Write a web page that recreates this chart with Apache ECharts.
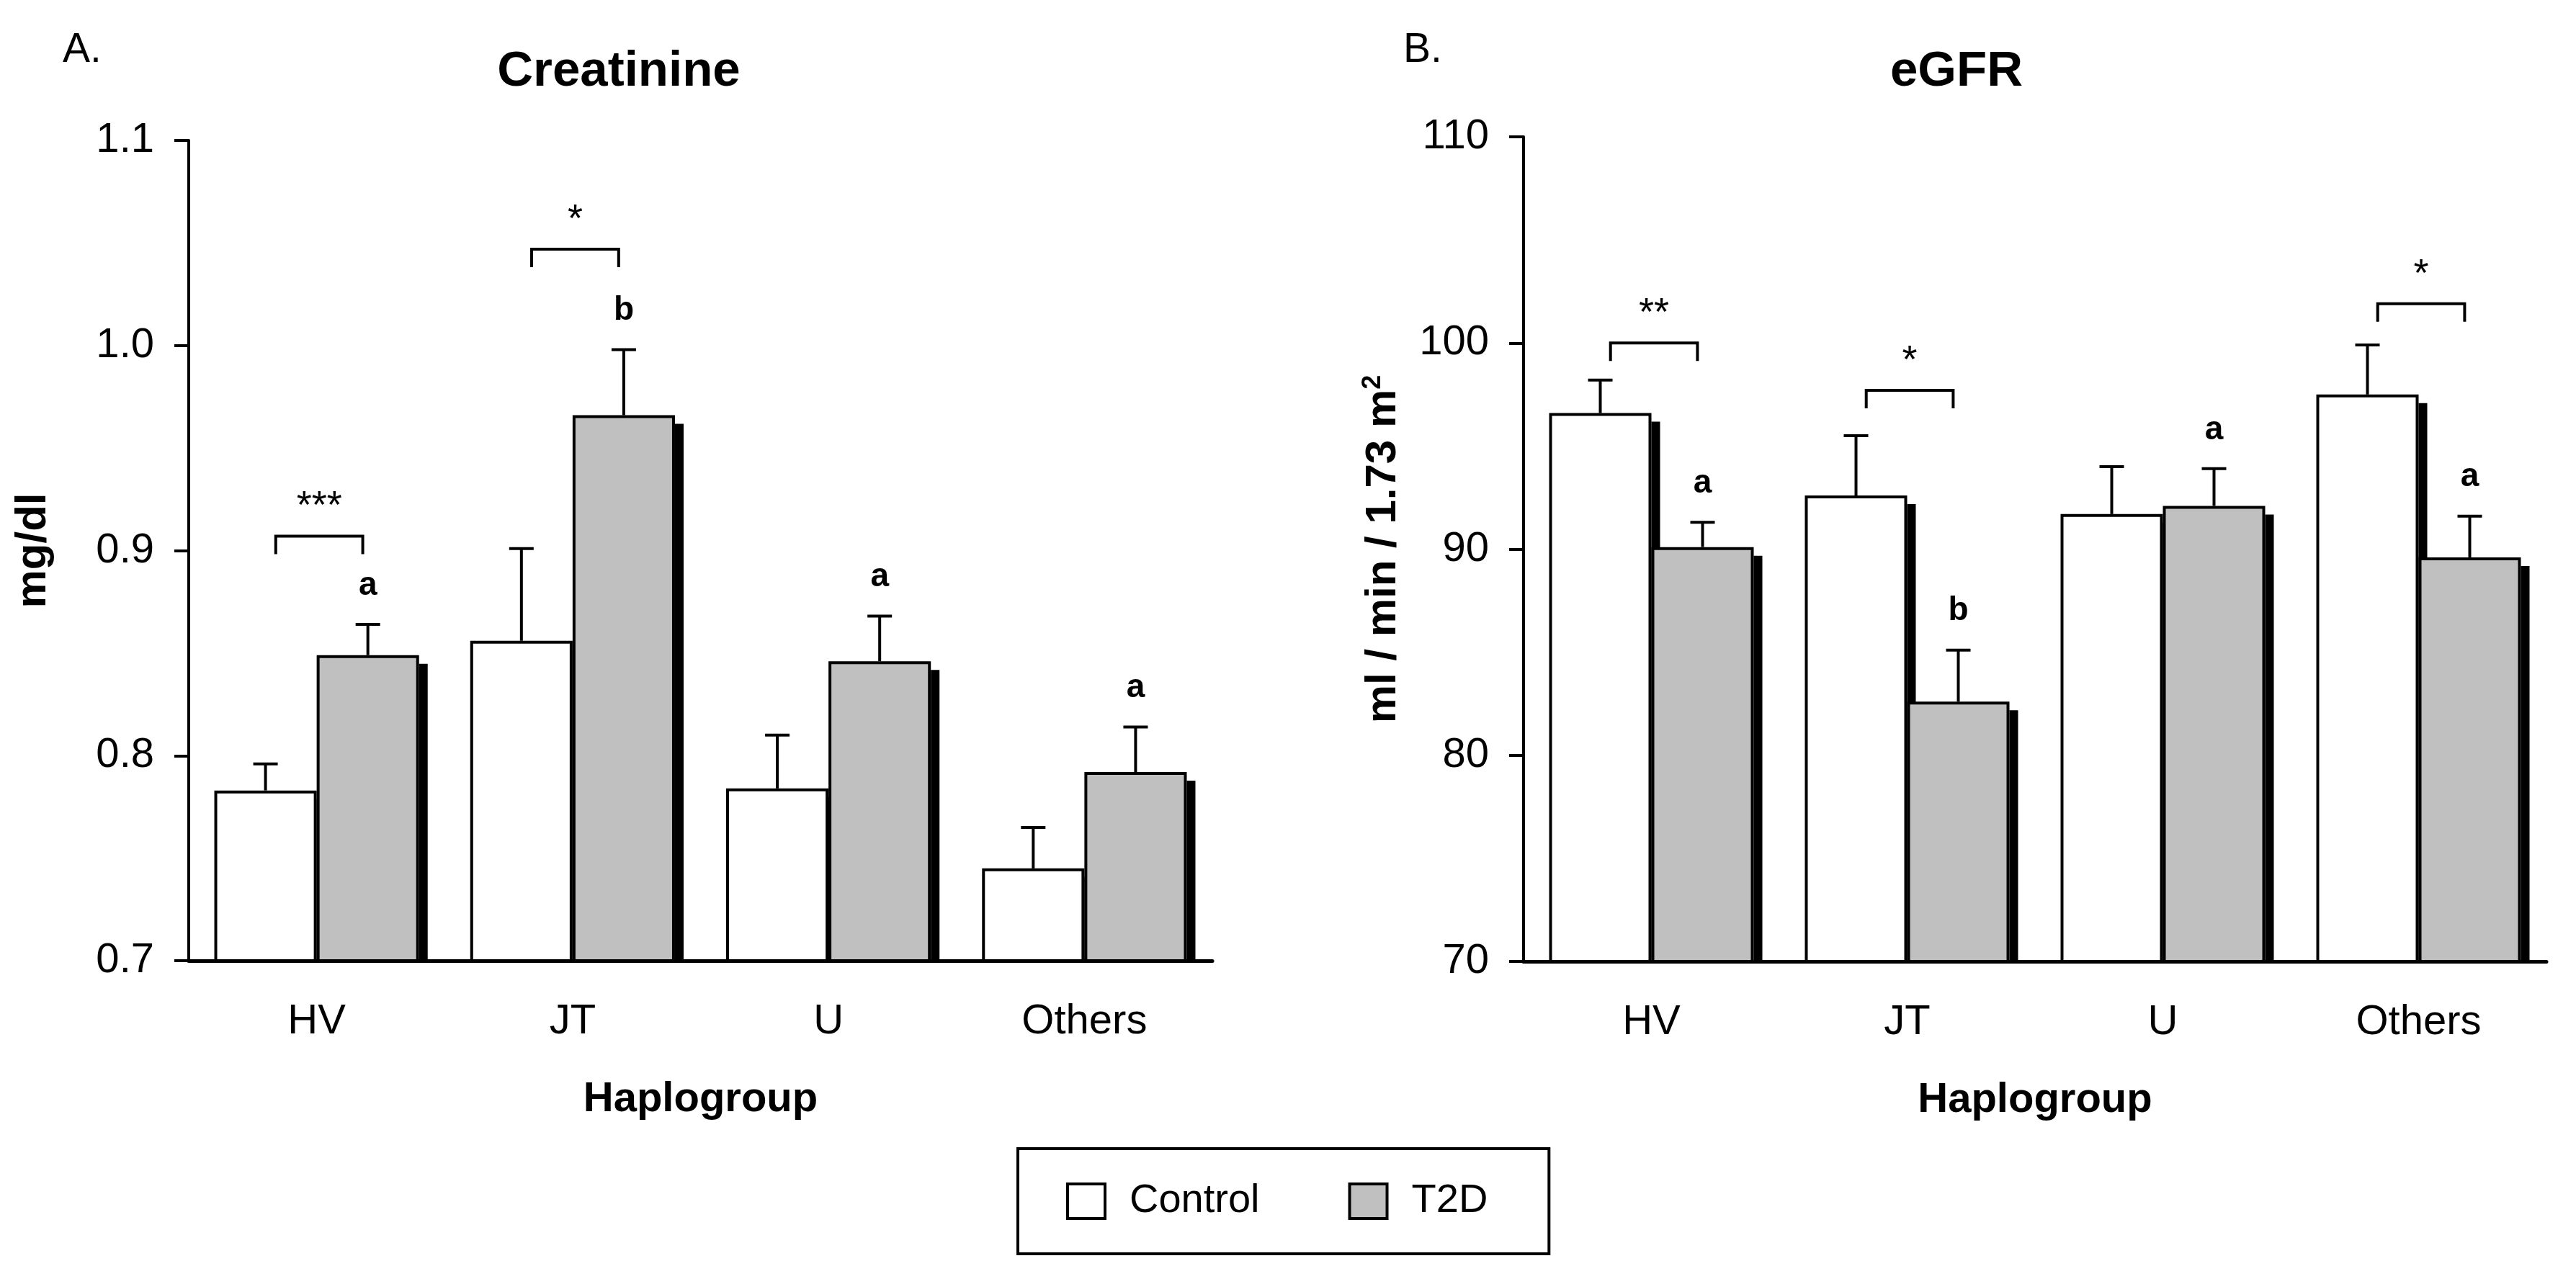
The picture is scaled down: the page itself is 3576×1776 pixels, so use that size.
<!DOCTYPE html>
<html lang="en">
<head>
    <meta charset="UTF-8">
    <title>Creatinine and eGFR by haplogroup</title>
    <style>
        html, body {
            margin: 0;
            padding: 0;
            background: #fff;
        }

        #chart {
            width: 3576px;
            height: 1776px;
        }
    </style>
</head>
<body>
<div id="chart"></div>
<script src="https://cdn.jsdelivr.net/npm/echarts@6/dist/echarts.min.js"></script>
<script>
    var categories = ['HV', 'JT', 'U', 'Others'];

    // A. Creatinine (mg/dl): means and upper error (SEM)
    var creatControl = [0.783, 0.856, 0.784, 0.745];
    var creatControlSem = [0.013, 0.045, 0.026, 0.020];
    var creatT2D = [0.849, 0.966, 0.846, 0.792];
    var creatT2DSem = [0.015, 0.032, 0.022, 0.022];
    var creatLetters = ['a', 'b', 'a', 'a'];
    var creatStars = ['***', '*', '', ''];
    var creatBracket = [0.907, 1.047, null, null];

    // B. eGFR (ml / min / 1.73 m2)
    var egfrControl = [96.6, 92.6, 91.7, 97.5];
    var egfrControlSem = [1.6, 2.9, 2.3, 2.4];
    var egfrT2D = [90.1, 82.6, 92.1, 89.6];
    var egfrT2DSem = [1.2, 2.5, 1.8, 2.0];
    var egfrLetters = ['a', 'b', 'a', 'a'];
    var egfrStars = ['**', '*', '', '*'];
    var egfrBracket = [100.0, 97.7, null, 101.9];

    var FONT = '"Liberation Sans", Arial, sans-serif';
    var BAR_SHARE = 0.4; // each bar = 40% of the band (barCategoryGap 20%, barGap 0)

    var barCenter = function (api, cat, value, group) {
        var p = api.coord([cat, value]);
        var bw = api.size([1, 0])[0] * BAR_SHARE;
        return [p[0] + (group === 0 ? -bw / 2 : bw / 2), p[1], bw];
    };

    var makePanel = function (idx, yMin, ctrl, ctrlSem, t2d, t2dSem, letters, stars, bracket) {
        var errData = [], shadowData = [], letterData = [], bracketData = [];
        categories.forEach(function (c, i) {
            errData.push([i, ctrl[i], ctrl[i] + ctrlSem[i], 0]);
            errData.push([i, t2d[i], t2d[i] + t2dSem[i], 1]);
            shadowData.push([i, ctrl[i], 0]);
            shadowData.push([i, t2d[i], 1]);
            letterData.push([i, t2d[i] + t2dSem[i]]);
            if (bracket[i] != null) {
                bracketData.push([i, bracket[i]]);
            }
        });

        return [
            {
                name: 'Control',
                type: 'bar',
                xAxisIndex: idx,
                yAxisIndex: idx,
                barGap: 0,
                barCategoryGap: '20%',
                z: 2,
                itemStyle: {color: '#ffffff', borderColor: '#000', borderWidth: 4},
                data: ctrl
            },
            {
                name: 'T2D',
                type: 'bar',
                xAxisIndex: idx,
                yAxisIndex: idx,
                barGap: 0,
                barCategoryGap: '20%',
                z: 2,
                itemStyle: {color: '#c0c0c0', borderColor: '#000', borderWidth: 4},
                data: t2d
            },
            {
                // black drop shadow on the right of every bar
                type: 'custom',
                xAxisIndex: idx,
                yAxisIndex: idx,
                z: 1,
                silent: true,
                renderItem: function (params, api) {
                    var b = barCenter(api, api.value(0), api.value(1), api.value(2));
                    var base = api.coord([api.value(0), yMin])[1];
                    return {
                        type: 'rect',
                        shape: {x: b[0] + b[2] / 2, y: b[1] + 12, width: 12, height: base - b[1] - 12},
                        style: {fill: '#000'}
                    };
                },
                data: shadowData
            },
            {
                // upper error bars
                type: 'custom',
                xAxisIndex: idx,
                yAxisIndex: idx,
                z: 3,
                silent: true,
                renderItem: function (params, api) {
                    var b = barCenter(api, api.value(0), api.value(1), api.value(3));
                    var yTop = api.coord([api.value(0), api.value(2)])[1];
                    var st = {stroke: '#000', lineWidth: 4};
                    return {
                        type: 'group',
                        children: [
                            {type: 'line', shape: {x1: b[0], y1: b[1], x2: b[0], y2: yTop}, style: st},
                            {type: 'line', shape: {x1: b[0] - 17, y1: yTop, x2: b[0] + 17, y2: yTop}, style: st}
                        ]
                    };
                },
                data: errData
            },
            {
                // letters over the T2D bars
                type: 'custom',
                xAxisIndex: idx,
                yAxisIndex: idx,
                z: 3,
                silent: true,
                renderItem: function (params, api) {
                    var b = barCenter(api, api.value(0), api.value(1), 1);
                    return {
                        type: 'text',
                        style: {
                            text: letters[api.value(0)],
                            x: b[0],
                            y: b[1] - 54,
                            align: 'center',
                            verticalAlign: 'middle',
                            fontSize: 46,
                            fontWeight: 'bold',
                            fontFamily: FONT,
                            fill: '#000'
                        }
                    };
                },
                data: letterData
            },
            {
                // significance brackets
                type: 'custom',
                xAxisIndex: idx,
                yAxisIndex: idx,
                z: 3,
                silent: true,
                renderItem: function (params, api) {
                    var cat = api.value(0);
                    var c0 = barCenter(api, cat, api.value(1), 0);
                    var c1 = barCenter(api, cat, api.value(1), 1);
                    var xL = c0[0] + 0.1 * c0[2];
                    var xR = c1[0] - 0.05 * c1[2];
                    var y = c0[1];
                    return {
                        type: 'group',
                        children: [
                            {
                                type: 'polyline',
                                shape: {points: [[xL, y + 25], [xL, y], [xR, y], [xR, y + 25]]},
                                style: {stroke: '#000', lineWidth: 4, fill: null}
                            },
                            {
                                type: 'text',
                                style: {
                                    text: stars[cat],
                                    x: (xL + xR) / 2,
                                    y: y - 40,
                                    align: 'center',
                                    verticalAlign: 'middle',
                                    fontSize: 54,
                                    fontFamily: FONT,
                                    fill: '#000'
                                }
                            }
                        ]
                    };
                },
                data: bracketData
            }
        ];
    };

    var xAxisFor = function (idx) {
        return {
            type: 'category',
            gridIndex: idx,
            data: categories,
            name: 'Haplogroup',
            nameLocation: 'middle',
            nameGap: 164,
            nameTextStyle: {fontSize: 58, fontWeight: 'bold', color: '#000', fontFamily: FONT},
            axisLine: {lineStyle: {color: '#000', width: 5}},
            axisTick: {show: false},
            axisLabel: {fontSize: 58, color: '#000', fontFamily: FONT, margin: 56}
        };
    };

    var yAxisFor = function (idx, min, max, interval, name, nameGap, digits) {
        return {
            type: 'value',
            gridIndex: idx,
            min: min,
            max: max,
            interval: interval,
            name: name,
            nameLocation: 'middle',
            nameGap: nameGap,
            nameTextStyle: {
                fontSize: 60, fontWeight: 'bold', color: '#000', fontFamily: FONT,
                rich: {
                    sup: {fontSize: 36, fontWeight: 'bold', color: '#000', fontFamily: FONT, verticalAlign: 'top', padding: [0, 0, 28, 0]}
                }
            },
            splitLine: {show: false},
            axisLine: {show: true, lineStyle: {color: '#000', width: 4}},
            axisTick: {show: true, inside: false, length: 20, lineStyle: {color: '#000', width: 4}},
            axisLabel: {
                fontSize: 58, color: '#000', fontFamily: FONT, margin: 48,
                formatter: function (v) {
                    return v.toFixed(digits);
                }
            }
        };
    };

    var option = {
        animation: false,
        backgroundColor: '#fff',
        title: [
            {text: 'A.', left: 87, top: 42, padding: 0, textStyle: {fontSize: 57, fontWeight: 'normal', color: '#000', fontFamily: FONT}},
            {text: 'Creatinine', left: 859, textAlign: 'center', top: 65, padding: 0, textStyle: {fontSize: 69, fontWeight: 'bold', color: '#000', fontFamily: FONT}},
            {text: 'B.', left: 1948, top: 42, padding: 0, textStyle: {fontSize: 57, fontWeight: 'normal', color: '#000', fontFamily: FONT}},
            {text: 'eGFR', left: 2716, textAlign: 'center', top: 65, padding: 0, textStyle: {fontSize: 69, fontWeight: 'bold', color: '#000', fontFamily: FONT}}
        ],
        legend: {
            data: ['Control', 'T2D'],
            left: 1413,
            top: 1595,
            orient: 'horizontal',
            icon: 'rect',
            itemWidth: 52,
            itemHeight: 48,
            itemGap: 123,
            padding: [45, 85, 45, 67],
            borderColor: '#000',
            borderWidth: 4,
            borderRadius: 0,
            itemStyle: {borderColor: '#000', borderWidth: 4},
            textStyle: {fontSize: 56, color: '#000', fontFamily: FONT, padding: [0, 0, 0, 29]}
        },
        grid: [
            {left: 262, top: 195, width: 1421, height: 1139, outerBoundsMode: 'none'},
            {left: 2115, top: 190, width: 1420, height: 1145, outerBoundsMode: 'none'}
        ],
        xAxis: [xAxisFor(0), xAxisFor(1)],
        yAxis: [
            yAxisFor(0, 0.7, 1.1, 0.1, 'mg/dl', 186, 1),
            yAxisFor(1, 70, 110, 10, 'ml / min / 1.73 m{sup|2}', 163, 0)
        ],
        series: [].concat(
            makePanel(0, 0.7, creatControl, creatControlSem, creatT2D, creatT2DSem, creatLetters, creatStars, creatBracket),
            makePanel(1, 70, egfrControl, egfrControlSem, egfrT2D, egfrT2DSem, egfrLetters, egfrStars, egfrBracket)
        )
    };

    var myChart = echarts.init(document.getElementById('chart'));
    myChart.setOption(option);
</script>
</body>
</html>
